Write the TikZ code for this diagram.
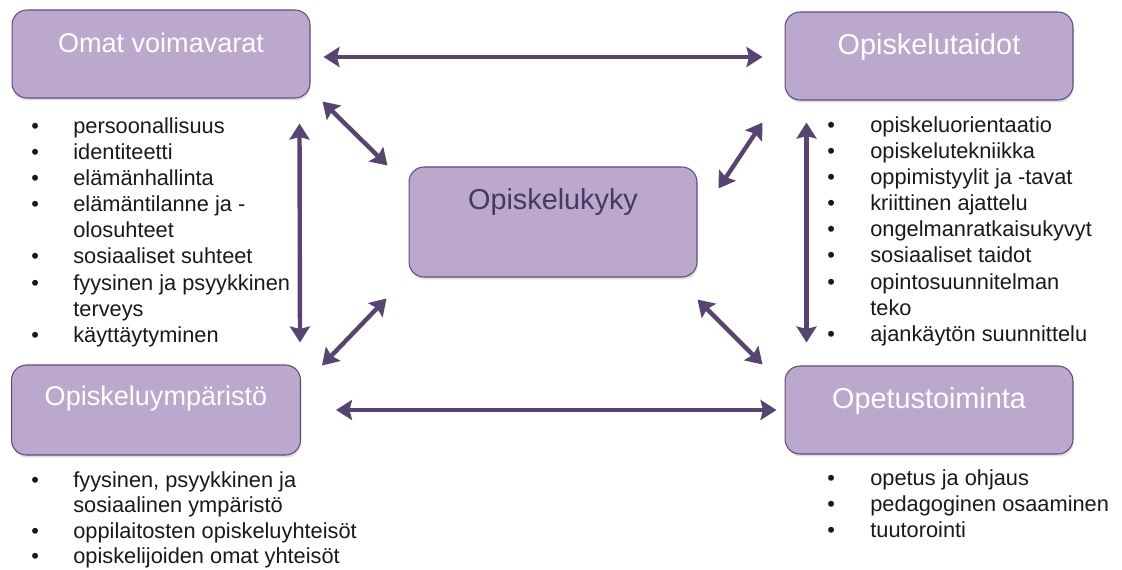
\documentclass[tikz,border=0pt]{standalone}
\usepackage{fontspec}
\setmainfont{Liberation Sans}
\usetikzlibrary{arrows.meta,shadows}

\definecolor{boxfill}{RGB}{188,168,204}
\definecolor{boxline}{RGB}{96,76,122}
\definecolor{arrowcol}{RGB}{88,68,112}
\definecolor{midtext}{RGB}{72,56,98}

\tikzset{
  box/.style={rectangle, rounded corners=0.3cm, draw=boxline, line width=0.6pt,
    fill=boxfill, inner xsep=0pt, inner ysep=0pt, minimum width=5.76cm,
    text height=0.84cm, text depth=0.92cm, text=white,
    font=\fontsize{16.4}{19}\selectfont,
    drop shadow={shadow xshift=0.4pt, shadow yshift=-1.4pt, opacity=0.25}},
  link/.style={draw=arrowcol, line width=2.5pt,
    {Stealth[length=0.32cm,width=0.4cm,inset=0.05cm]}-{Stealth[length=0.32cm,width=0.4cm,inset=0.05cm]}},
  itemlist/.style={anchor=base west, inner sep=0pt,
    font=\fontsize{12.4}{14.9}\selectfont, text=black!90}
}
\newcommand{\bul}{\textbullet}

\begin{document}
\begin{tikzpicture}[x=0.02cm, y=-0.02cm]
        \useasboundingbox (0,0) rectangle (1122,569);

        \node (OV) at (161,54) [box, minimum width=5.96cm, font=\fontsize{15.4}{18}\selectfont] {Omat voimavarat};
        \node (OT) at (929,56) [box] {Opiskelutaidot};
        \node (OK) at (553,222) [box, text depth=1.36cm, text=midtext] {Opiskelukyky};
        \node (OY) at (156,410) [box, minimum width=5.78cm, text height=0.8cm, text depth=1cm, font=\fontsize{15.4}{18}\selectfont] {Opiskeluympäristö};
        \node (OTo) at (929,410) [box] {Opetustoiminta};

        \node (listOV) at (31,133) [itemlist] {\begin{tabular}[t]{@{}p{0.84cm}@{}l@{}}
          \bul & persoonallisuus\\
          \bul & identiteetti\\
          \bul & elämänhallinta\\
          \bul & elämäntilanne ja -\\
               & olosuhteet\\
          \bul & sosiaaliset suhteet\\
          \bul & fyysinen ja psyykkinen\\
               & terveys\\
          \bul & käyttäytyminen
        \end{tabular}};
        \node (listOT) at (827,132) [itemlist] {\begin{tabular}[t]{@{}p{0.86cm}@{}l@{}}
          \bul & opiskeluorientaatio\\
          \bul & opiskelutekniikka\\
          \bul & oppimistyylit ja -tavat\\
          \bul & kriittinen ajattelu\\
          \bul & ongelmanratkaisukyvyt\\
          \bul & sosiaaliset taidot\\
          \bul & opintosuunnitelman\\
               & teko\\
          \bul & ajankäytön suunnittelu
        \end{tabular}};
        \node (listOY) at (31,487) [itemlist, font=\fontsize{12.4}{14.6}\selectfont] {\begin{tabular}[t]{@{}p{0.84cm}@{}l@{}}
          \bul & fyysinen, psyykkinen ja\\
               & sosiaalinen ympäristö\\
          \bul & oppilaitosten opiskeluyhteisöt\\
          \bul & opiskelijoiden omat yhteisöt
        \end{tabular}};
        \node (listOTo) at (827,485) [itemlist] {\begin{tabular}[t]{@{}p{0.86cm}@{}l@{}}
          \bul & opetus ja ohjaus\\
          \bul & pedagoginen osaaminen\\
          \bul & tuutorointi
        \end{tabular}};

        \draw[link] ([shift={(13,3)}]OV.east) -- ([shift={(-22,1)}]OT.west);
        \draw[link] ([shift={(35,0)}]OY.east) -- ([shift={(-8,0)}]OTo.west);
        \draw[link] ([shift={(-11,25)}]OV.south east) -- ([shift={(-1,-22)}]OY.north east);
        \draw[link] ([shift={(22,22)}]OT.south west) -- ([shift={(22,-23)}]OTo.north west);
        \draw[link] ([shift={(12,3)}]OV.south east) -- ([shift={(-21,-1)}]OK.north west);
        \draw[link] ([shift={(-22,22)}]OT.south west) -- ([shift={(21,22)}]OK.north east);
        \draw[link] ([shift={(-22,21)}]OK.south west) -- ([shift={(21,1)}]OY.north east);
        \draw[link] ([shift={(0,22)}]OK.south east) -- ([shift={(-22,-1)}]OTo.north west);
    \end{tikzpicture}
\end{document}
